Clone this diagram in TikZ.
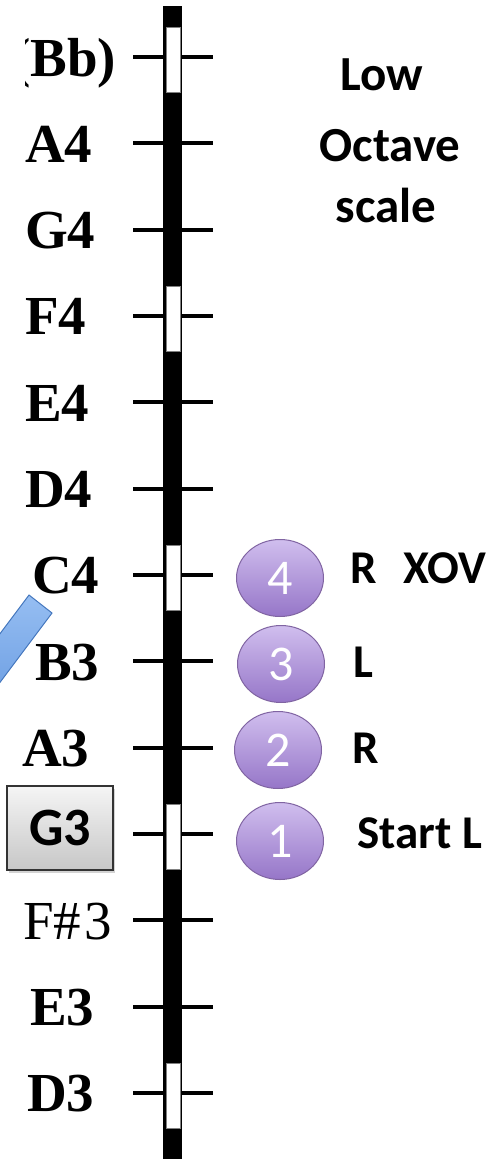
\documentclass[tikz,border=0pt]{standalone}
\usepackage{fontspec}
\setmainfont{Liberation Serif}
\newfontfamily\calfont{Carlito}
\usetikzlibrary{shapes.geometric,shadows}
\definecolor{ballTop}{RGB}{208,190,238}
\definecolor{ballBot}{RGB}{150,118,200}
\definecolor{ballEdge}{RGB}{128,100,162}
\definecolor{barLight}{RGB}{150,190,242}
\definecolor{barDark}{RGB}{80,136,216}
\definecolor{barEdge}{RGB}{70,120,190}
\begin{document}
\begin{tikzpicture}[x=1pt,y=-1pt,
  notelab/.style={anchor=base west, inner sep=0pt, font=\fontsize{55}{60}\selectfont\bfseries},
  tickline/.style={line width=4pt},
  notch/.style={fill=white, draw=gray, line width=0.8pt},
  ball/.style={ellipse, minimum width=87pt, minimum height=77pt, draw=ballEdge, line width=1pt,
    top color=ballTop, bottom color=ballBot, text=white, inner sep=0pt,
    font=\calfont\fontsize{50}{50}\selectfont},
  fing/.style={anchor=base west, inner sep=0pt, font=\calfont\bfseries\fontsize{47}{47}\selectfont},
  titletext/.style={anchor=base, inner sep=0pt, font=\calfont\bfseries\fontsize{49}{49}\selectfont},
  keybox/.style={draw=black!80, line width=1.2pt, top color=black!4, bottom color=black!22,
    minimum width=106pt, minimum height=84pt, inner sep=0pt,
    font=\calfont\bfseries\fontsize{54}{54}\selectfont,
    drop shadow={opacity=0.35, shadow xshift=2pt, shadow yshift=-3pt}}
 ]
\useasboundingbox (0,0) rectangle (493,1159);
\clip (0,0) rectangle (493,1159);

% blue bar at the left edge
\coordinate (bA) at (29,595);
\coordinate (bB) at (52,613);
\coordinate (bC) at (-68,773);
\coordinate (bD) at (-91,755);
\draw[barEdge, line width=1pt, left color=barLight, right color=barDark, shading angle=0]
  (bA) -- (bB) -- (bC) -- (bD) -- cycle;

% tick lines
\foreach \k in {0,...,12}
  \draw[tickline] (133,57+\k*86.33) -- (213,57+\k*86.33);

% black staff bar
\fill[black] (163,6) rectangle (182,1159);

% white notches
\foreach \k in {0,3,6,9,12}
  \draw[notch] (166,57+\k*86.33-30) rectangle (180,57+\k*86.33+35);

% note labels
\begin{scope}
  \clip (25,0) rectangle (130,130);
  \node[notelab] (nBb) at (12,57+19) {(Bb)};
\end{scope}
\foreach \k/\lab/\lx in {1/A4/25, 2/G4/25, 3/F4/25, 4/E4/25, 5/D4/25, 6/C4/32, 7/B3/35, 8/A3/22, 11/E3/30, 12/D3/27}
  \node[notelab] (n\k) at (\lx,57+\k*86.33+19) {\lab};
\node[notelab, font=\fontsize{55}{60}\selectfont\mdseries] (n10) at (23,57+10*86.33+19) {F\#\kern3pt 3};

% G3 key box
\node[keybox] (g3) at (60,828) {G3};

% fingering balls
\node[ball] (b4) at (280,578) {4};
\node[ball] (b3) at (281,664) {3};
\node[ball] (b2) at (278,750) {2};
\node[ball] (b1) at (280,841) {1};

\node[fing] (f4) at (350,583) {R\hspace{27pt}XOV};
\node[fing] (f3) at (353,677) {L};
\node[fing] (f2) at (352,763) {R};
\node[fing] (f1) at (357,848) {Start L};

% title
\node[titletext] (t1) at (382,90) {Low};
\node[titletext] (t2) at (390,161) {Octave};
\node[titletext] (t3) at (386,222) {scale};
\end{tikzpicture}
\end{document}
